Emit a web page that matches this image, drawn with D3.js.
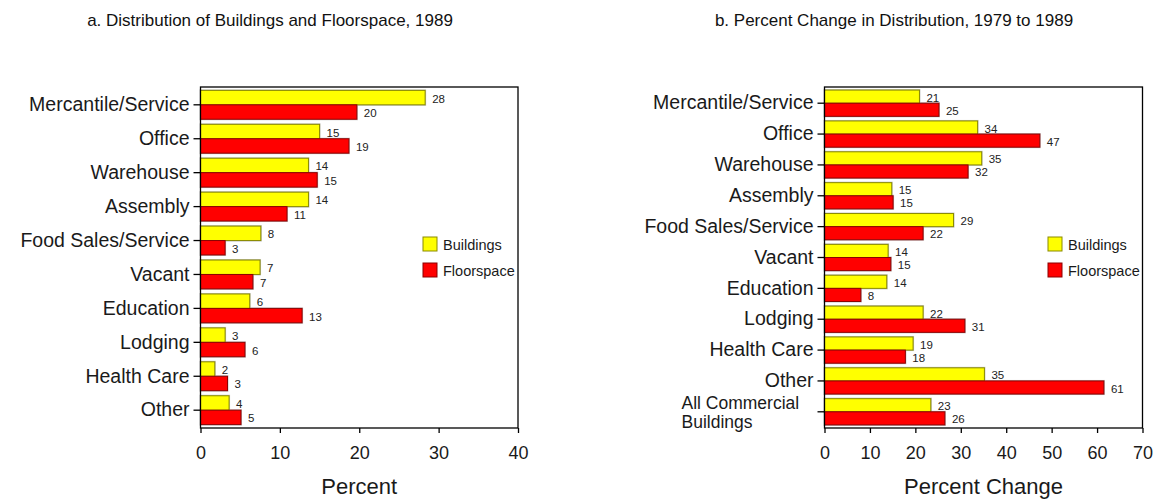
<!DOCTYPE html>
<html>
<head>
<meta charset="utf-8">
<script src="https://cdn.jsdelivr.net/npm/d3@7"></script>
<style>
  body { margin: 0; background: #fff; }
  svg { display: block; font-family: "Liberation Sans", Arial, sans-serif; }
</style>
</head>
<body>
<svg id="chart" width="1157" height="499"></svg>
<script>
// panel a: distribution 1989
const leftCategories = ["Mercantile/Service", "Office", "Warehouse", "Assembly", "Food Sales/Service",
    "Vacant", "Education", "Lodging", "Health Care", "Other"];
const leftBuildings = [28.3, 15.0, 13.6, 13.6, 7.6, 7.5, 6.2, 3.1, 1.8, 3.6];
const leftFloorspace = [19.7, 18.7, 14.7, 10.9, 3.1, 6.6, 12.8, 5.6, 3.4, 5.1];
const leftBuildingsLabels = ["28", "15", "14", "14", "8", "7", "6", "3", "2", "4"];
const leftFloorspaceLabels = ["20", "19", "15", "11", "3", "7", "13", "6", "3", "5"];
const leftTicks = [0, 10, 20, 30, 40];

// panel b: percent change 1979 to 1989
const rightCategories = ["Mercantile/Service", "Office", "Warehouse", "Assembly", "Food Sales/Service",
    "Vacant", "Education", "Lodging", "Health Care", "Other", "All Commercial Buildings"];
const rightBuildings = [20.9, 33.7, 34.6, 14.8, 28.4, 14.0, 13.7, 21.7, 19.5, 35.2, 23.4];
const rightFloorspace = [25.2, 47.4, 31.6, 15.1, 21.7, 14.6, 8.0, 30.9, 17.8, 61.5, 26.5];
const rightBuildingsLabels = ["21", "34", "35", "15", "29", "14", "14", "22", "19", "35", "23"];
const rightFloorspaceLabels = ["25", "47", "32", "15", "22", "15", "8", "31", "18", "61", "26"];
const rightTicks = [0, 10, 20, 30, 40, 50, 60, 70];

const seriesNames = ["Buildings", "Floorspace"];
const fills = { Buildings: "#ffff00", Floorspace: "#ff0000" };
const strokes = { Buildings: "#8a8a00", Floorspace: "#8b0000" };

const svg = d3.select("#chart");

drawPanel({
    title: "a. Distribution of Buildings and Floorspace, 1989",
    titleX: 270,
    left: 200.5, right: 518, top: 87, bottom: 428,
    categories: leftCategories,
    buildings: leftBuildings, floorspace: leftFloorspace,
    bLabels: leftBuildingsLabels, fLabels: leftFloorspaceLabels,
    ticks: leftTicks,
    axisTitle: "Percent",
    legendX: 423
});

drawPanel({
    title: "b. Percent Change in Distribution, 1979 to 1989",
    titleX: 894,
    left: 824.5, right: 1142.5, top: 87, bottom: 428,
    categories: rightCategories,
    buildings: rightBuildings, floorspace: rightFloorspace,
    bLabels: rightBuildingsLabels, fLabels: rightFloorspaceLabels,
    ticks: rightTicks,
    axisTitle: "Percent Change",
    legendX: 1048
});

function drawPanel(o) {
    const g = svg.append("g");

    const x = d3.scaleLinear()
        .domain([0, d3.max(o.ticks)])
        .range([o.left, o.right]);

    const y = d3.scaleBand()
        .domain(o.categories)
        .range([o.top, o.bottom])
        .paddingInner(0.15)
        .paddingOuter(0.1);

    const ys = d3.scaleBand()
        .domain(seriesNames)
        .range([0, y.bandwidth()]);

    const rows = o.categories.map((c, i) => ({
        category: c,
        bars: [
            { series: "Buildings", value: o.buildings[i], label: o.bLabels[i] },
            { series: "Floorspace", value: o.floorspace[i], label: o.fLabels[i] }
        ]
    }));

    // title
    g.append("text")
        .attr("x", o.titleX)
        .attr("y", 26)
        .attr("text-anchor", "middle")
        .style("font-size", "17px")
        .style("fill", "#111")
        .text(o.title);

    const groups = g.selectAll(".row")
        .data(rows)
        .enter()
        .append("g")
        .attr("class", "row")
        .attr("transform", d => "translate(0," + y(d.category) + ")");

    // soft grey shadow behind bars
    groups.selectAll(".shadow")
        .data(d => d.bars)
        .enter()
        .append("rect")
        .attr("x", x(0) - 1)
        .attr("y", d => ys(d.series) - 1)
        .attr("width", d => x(d.value) - x(0) + 2)
        .attr("height", ys.bandwidth() + 2)
        .style("fill", "#c4c4c4");

    groups.selectAll(".bar")
        .data(d => d.bars)
        .enter()
        .append("rect")
        .attr("class", "bar")
        .attr("x", x(0))
        .attr("y", d => ys(d.series))
        .attr("width", d => x(d.value) - x(0))
        .attr("height", ys.bandwidth())
        .style("fill", d => fills[d.series])
        .style("stroke", d => strokes[d.series])
        .style("stroke-width", 1);

    groups.selectAll(".val")
        .data(d => d.bars)
        .enter()
        .append("text")
        .attr("class", "val")
        .attr("x", d => x(d.value) + 7)
        .attr("y", d => ys(d.series) + ys.bandwidth() / 2 + 1)
        .attr("dy", "0.35em")
        .style("font-size", "11.5px")
        .style("fill", "#222")
        .text(d => d.label);

    // frame
    g.append("rect")
        .attr("x", o.left)
        .attr("y", o.top)
        .attr("width", o.right - o.left)
        .attr("height", o.bottom - o.top)
        .style("fill", "none")
        .style("stroke", "#000")
        .style("stroke-width", 1.3);

    // y axis
    const yAxis = g.append("g")
        .attr("transform", "translate(" + o.left + ",0)")
        .call(d3.axisLeft(y).tickSize(7).tickPadding(4));
    yAxis.select(".domain").remove();
    yAxis.selectAll("line").style("stroke", "#000").style("stroke-width", 1.3);
    yAxis.selectAll("text")
        .style("font-size", "19.5px")
        .style("fill", "#1a1a1a")
        .style("font-family", "'Liberation Sans', Arial, sans-serif");

    // two-line label for the total row
    yAxis.selectAll("text")
        .filter(d => d === "All Commercial Buildings")
        .text(null)
        .attr("text-anchor", "start")
        .attr("x", -143)
        .attr("dy", null)
        .style("font-size", "17.5px")
        .call(t => {
            t.append("tspan").attr("x", -143).attr("y", -3).text("All Commercial");
            t.append("tspan").attr("x", -143).attr("y", 16).text("Buildings");
        });

    // x axis
    const xAxis = g.append("g")
        .attr("transform", "translate(0," + o.bottom + ")")
        .call(d3.axisBottom(x).tickValues(o.ticks).tickSize(5).tickPadding(13));
    xAxis.select(".domain").remove();
    xAxis.selectAll("line").style("stroke", "#000").style("stroke-width", 1.3);
    xAxis.selectAll("text")
        .style("font-size", "18px")
        .style("fill", "#1a1a1a")
        .style("font-family", "'Liberation Sans', Arial, sans-serif");

    g.append("text")
        .attr("x", (o.left + o.right) / 2)
        .attr("y", 494)
        .attr("text-anchor", "middle")
        .style("font-size", "22px")
        .style("fill", "#1a1a1a")
        .text(o.axisTitle);

    // legend
    const legend = g.selectAll(".legend")
        .data(seriesNames)
        .enter()
        .append("g")
        .attr("class", "legend")
        .attr("transform", (d, i) => "translate(" + o.legendX + "," + (237 + i * 26) + ")");

    legend.append("rect")
        .attr("width", 14)
        .attr("height", 14)
        .style("fill", d => fills[d])
        .style("stroke", d => strokes[d]);

    legend.append("text")
        .attr("x", 20)
        .attr("y", 8)
        .attr("dy", "0.35em")
        .style("font-size", "14.5px")
        .style("fill", "#1a1a1a")
        .text(d => d);
}
</script>
</body>
</html>
